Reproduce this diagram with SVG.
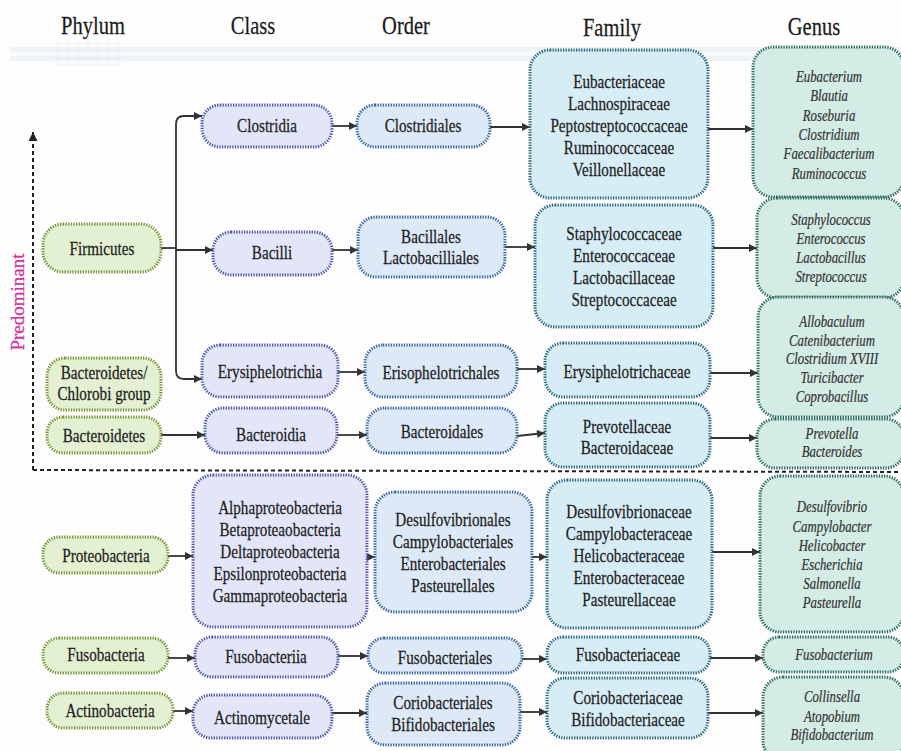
<svg xmlns="http://www.w3.org/2000/svg" width="901" height="751" viewBox="0 0 901 751">
<defs>
<style>
.ph{fill:#e4f0d2;stroke:#759438}
.cl{fill:#e3e6f8;stroke:#4e56a6}
.or{fill:#dde9f7;stroke:#35659e}
.fa{fill:#d7edf5;stroke:#28667e}
.ge{fill:#d3ece6;stroke:#27695c}
rect.n{stroke-width:3;stroke-dasharray:1.3 1.3}
.t{font-family:"Liberation Serif","Times New Roman",serif;font-size:18.5px;fill:#1e1e1e;text-anchor:middle;stroke:#1e1e1e;stroke-width:0.25}
.g{font-style:italic;font-size:16px;fill:#333;stroke:#333;stroke-width:0.2}
.h{font-size:25px;fill:#1a1a1a}
.c{fill:none;stroke:#333;stroke-width:1.8}
.ca{fill:none;stroke:#333;stroke-width:1.8;marker-end:url(#ah)}
.d{fill:none;stroke:#222;stroke-width:2;stroke-dasharray:4 3}
</style>
<marker id="ah" viewBox="0 0 10 10" refX="10" refY="5" markerWidth="9" markerHeight="8" markerUnits="userSpaceOnUse" orient="auto"><path d="M0,0 L10,5 L0,10 z" fill="#333"/></marker>
<marker id="ahd" viewBox="0 0 10 10" refX="10" refY="5" markerWidth="9" markerHeight="9" markerUnits="userSpaceOnUse" orient="auto"><path d="M0,0 L10,5 L0,10 z" fill="#222"/></marker>
</defs>
<rect width="901" height="751" fill="#fdfdfd"/>
<!-- header band -->
<rect x="10" y="47" width="891" height="14" fill="#f0f3f5"/>
<rect x="10" y="52" width="891" height="4" fill="#f9fafb"/>
<g stroke="#e2ebf2" stroke-width="0.8" fill="none" opacity="0.7">
<path d="M55,44 H122 M55,51 H122 M55,58 H122 M55,65 H122"/>
<path d="M58,40 V66 M68,40 V66 M78,40 V66 M88,40 V66 M98,40 V66 M108,40 V66 M118,40 V66"/>
</g>
<!-- headers -->
<g id="headers">
<text class="t h" transform="matrix(0.82 0 0 1 93 0)"><tspan x="0" y="34">Phylum</tspan></text>
<text class="t h" transform="matrix(0.82 0 0 1 253 0)"><tspan x="0" y="34">Class</tspan></text>
<text class="t h" transform="matrix(0.82 0 0 1 406 0)"><tspan x="0" y="34">Order</tspan></text>
<text class="t h" transform="matrix(0.82 0 0 1 612 0)"><tspan x="0" y="36">Family</tspan></text>
<text class="t h" transform="matrix(0.82 0 0 1 814 0)"><tspan x="0" y="35">Genus</tspan></text>
</g>
<!-- predominant indicator -->
<g id="predominant">
<path class="d" d="M33,470 V132" marker-end="url(#ahd)"/>
<path class="d" d="M33,470 L901,472"/>
<text transform="translate(24 302) rotate(-90)" text-anchor="middle" font-family="Liberation Serif, serif" font-size="19" fill="#d0379b" stroke="#d0379b" stroke-width="0.3">Predominant</text>
</g>
<!-- connectors -->
<g id="connectors">
<path class="c" d="M161,248 H176"/>
<path class="ca" d="M176,248 V124 Q176,116 184,116 H202"/>
<path class="ca" d="M176,250 H213"/>
<path class="ca" d="M176,248 V371 Q176,379 184,379 H202"/>
<path class="ca" d="M332,126 H357"/>
<path class="ca" d="M490,127 H530"/>
<path class="ca" d="M708,129 H753"/>
<path class="ca" d="M332,250 H358"/>
<path class="ca" d="M505,247 H535"/>
<path class="ca" d="M713,248 H757"/>
<path class="ca" d="M338,372 H365"/>
<path class="ca" d="M517,369 H545"/>
<path class="ca" d="M710,373 H758"/>
<path class="ca" d="M161,435 H205"/>
<path class="ca" d="M337,435 H367"/>
<path class="ca" d="M517,436 L545,433"/>
<path class="ca" d="M710,438 H757"/>
<path class="ca" d="M168,556 H193"/>
<path class="ca" d="M367,557 H375"/>
<path class="ca" d="M532,557 H547"/>
<path class="ca" d="M712,552 H760"/>
<path class="ca" d="M168,658 H195"/>
<path class="ca" d="M338,656 H368"/>
<path class="ca" d="M522,659 H547"/>
<path class="ca" d="M710,658 H763"/>
<path class="ca" d="M173,711 H193"/>
<path class="ca" d="M332,713 H367"/>
<path class="ca" d="M520,712 H547"/>
<path class="ca" d="M708,713 H763"/>
</g>
<!-- Phylum -->
<g id="firmicutes"><rect class="n ph" x="43" y="224" width="118" height="48" rx="20"/>
<text class="t" transform="matrix(0.82 0 0 1 102 0)"><tspan x="0" y="255">Firmicutes</tspan></text></g>
<g id="bacteroidetes-chlorobi"><rect class="n ph" x="47" y="358" width="114" height="52" rx="18"/>
<text class="t" transform="matrix(0.82 0 0 1 104 0)"><tspan x="0" y="379">Bacteroidetes/</tspan><tspan x="0" y="400">Chlorobi group</tspan></text></g>
<g id="bacteroidetes"><rect class="n ph" x="47" y="417" width="114" height="36" rx="16"/>
<text class="t" transform="matrix(0.82 0 0 1 104 0)"><tspan x="0" y="442">Bacteroidetes</tspan></text></g>
<g id="proteobacteria"><rect class="n ph" x="43" y="537" width="125" height="36" rx="16"/>
<text class="t" transform="matrix(0.82 0 0 1 106 0)"><tspan x="0" y="562">Proteobacteria</tspan></text></g>
<g id="fusobacteria"><rect class="n ph" x="43" y="638" width="125" height="35" rx="16"/>
<text class="t" transform="matrix(0.82 0 0 1 106 0)"><tspan x="0" y="661">Fusobacteria</tspan></text></g>
<g id="actinobacteria"><rect class="n ph" x="47" y="693" width="126" height="35" rx="16"/>
<text class="t" transform="matrix(0.82 0 0 1 110 0)"><tspan x="0" y="717">Actinobacteria</tspan></text></g>
<!-- Class -->
<g id="clostridia"><rect class="n cl" x="202" y="105" width="130" height="42" rx="18"/>
<text class="t" transform="matrix(0.82 0 0 1 267 0)"><tspan x="0" y="132">Clostridia</tspan></text></g>
<g id="bacilli"><rect class="n cl" x="213" y="232" width="119" height="43" rx="18"/>
<text class="t" transform="matrix(0.82 0 0 1 272 0)"><tspan x="0" y="259">Bacilli</tspan></text></g>
<g id="erysiphelotrichia"><rect class="n cl" x="202" y="345" width="136" height="52" rx="18"/>
<text class="t" transform="matrix(0.82 0 0 1 270 0)"><tspan x="0" y="378">Erysiphelotrichia</tspan></text></g>
<g id="bacteroidia"><rect class="n cl" x="205" y="408" width="132" height="45" rx="18"/>
<text class="t" transform="matrix(0.82 0 0 1 271 0)"><tspan x="0" y="441">Bacteroidia</tspan></text></g>
<g id="proteo-classes"><rect class="n cl" x="193" y="475" width="174" height="152" rx="20"/>
<text class="t" transform="matrix(0.82 0 0 1 280 0)"><tspan x="0" y="514">Alphaproteobacteria</tspan><tspan x="0" y="536">Betaproteaobacteria</tspan><tspan x="0" y="558">Deltaproteobacteria</tspan><tspan x="0" y="580">Epsilonproteobacteria</tspan><tspan x="0" y="602">Gammaproteobacteria</tspan></text></g>
<g id="fusobacteriia"><rect class="n cl" x="195" y="637" width="143" height="40" rx="17"/>
<text class="t" transform="matrix(0.82 0 0 1 266 0)"><tspan x="0" y="663">Fusobacteriia</tspan></text></g>
<g id="actinomycetale"><rect class="n cl" x="193" y="695" width="139" height="43" rx="18"/>
<text class="t" transform="matrix(0.82 0 0 1 262 0)"><tspan x="0" y="724">Actinomycetale</tspan></text></g>
<!-- Order -->
<g id="clostridiales"><rect class="n or" x="357" y="105" width="133" height="42" rx="18"/>
<text class="t" transform="matrix(0.82 0 0 1 423 0)"><tspan x="0" y="132">Clostridiales</tspan></text></g>
<g id="bacillales"><rect class="n or" x="358" y="217" width="147" height="60" rx="18"/>
<text class="t" transform="matrix(0.82 0 0 1 431 0)"><tspan x="0" y="243">Bacillales</tspan><tspan x="0" y="264">Lactobacilliales</tspan></text></g>
<g id="erisophelotrichales"><rect class="n or" x="365" y="345" width="152" height="52" rx="18"/>
<text class="t" transform="matrix(0.82 0 0 1 441 0)"><tspan x="0" y="379">Erisophelotrichales</tspan></text></g>
<g id="bacteroidales"><rect class="n or" x="367" y="408" width="150" height="45" rx="18"/>
<text class="t" transform="matrix(0.82 0 0 1 442 0)"><tspan x="0" y="438">Bacteroidales</tspan></text></g>
<g id="proteo-orders"><rect class="n or" x="375" y="492" width="157" height="120" rx="20"/>
<text class="t" transform="matrix(0.82 0 0 1 453 0)"><tspan x="0" y="526">Desulfovibrionales</tspan><tspan x="0" y="548">Campylobacteriales</tspan><tspan x="0" y="570">Enterobacteriales</tspan><tspan x="0" y="592">Pasteurellales</tspan></text></g>
<g id="fusobacteriales"><rect class="n or" x="368" y="638" width="154" height="35" rx="16"/>
<text class="t" transform="matrix(0.82 0 0 1 445 0)"><tspan x="0" y="664">Fusobacteriales</tspan></text></g>
<g id="coriobacteriales"><rect class="n or" x="367" y="683" width="153" height="62" rx="18"/>
<text class="t" transform="matrix(0.82 0 0 1 443 0)"><tspan x="0" y="709">Coriobacteriales</tspan><tspan x="0" y="731">Bifidobacteriales</tspan></text></g>
<!-- Family -->
<g id="clostridia-families"><rect class="n fa" x="530" y="50" width="178" height="148" rx="20"/>
<text class="t" transform="matrix(0.82 0 0 1 619 0)"><tspan x="0" y="88">Eubacteriaceae</tspan><tspan x="0" y="110">Lachnospiraceae</tspan><tspan x="0" y="132">Peptostreptococcaceae</tspan><tspan x="0" y="154">Ruminococcaceae</tspan><tspan x="0" y="176">Veillonellaceae</tspan></text></g>
<g id="bacilli-families"><rect class="n fa" x="535" y="205" width="178" height="122" rx="20"/>
<text class="t" transform="matrix(0.82 0 0 1 624 0)"><tspan x="0" y="240">Staphylococcaceae</tspan><tspan x="0" y="262">Enterococcaceae</tspan><tspan x="0" y="284">Lactobacillaceae</tspan><tspan x="0" y="306">Streptococcaceae</tspan></text></g>
<g id="erysiphelotrichaceae"><rect class="n fa" x="545" y="343" width="165" height="54" rx="18"/>
<text class="t" transform="matrix(0.82 0 0 1 627 0)"><tspan x="0" y="378">Erysiphelotrichaceae</tspan></text></g>
<g id="bacteroidales-families"><rect class="n fa" x="545" y="403" width="165" height="64" rx="18"/>
<text class="t" transform="matrix(0.82 0 0 1 627 0)"><tspan x="0" y="433">Prevotellaceae</tspan><tspan x="0" y="454">Bacteroidaceae</tspan></text></g>
<g id="proteo-families"><rect class="n fa" x="547" y="480" width="165" height="148" rx="20"/>
<text class="t" transform="matrix(0.82 0 0 1 629 0)"><tspan x="0" y="518">Desulfovibrionaceae</tspan><tspan x="0" y="540">Campylobacteraceae</tspan><tspan x="0" y="562">Helicobacteraceae</tspan><tspan x="0" y="584">Enterobacteraceae</tspan><tspan x="0" y="606">Pasteurellaceae</tspan></text></g>
<g id="fusobacteriaceae"><rect class="n fa" x="547" y="637" width="163" height="36" rx="16"/>
<text class="t" transform="matrix(0.82 0 0 1 628 0)"><tspan x="0" y="661">Fusobacteriaceae</tspan></text></g>
<g id="coriobacteriaceae"><rect class="n fa" x="547" y="678" width="161" height="60" rx="18"/>
<text class="t" transform="matrix(0.82 0 0 1 628 0)"><tspan x="0" y="704">Coriobacteriaceae</tspan><tspan x="0" y="726">Bifidobacteriaceae</tspan></text></g>
<!-- Genus -->
<g id="clostridia-genera"><rect class="n ge" x="753" y="47" width="151" height="150" rx="20"/>
<text class="t g" transform="matrix(0.8 0 0 1 829 0)"><tspan x="0" y="82">Eubacterium</tspan><tspan x="0" y="101">Blautia</tspan><tspan x="0" y="121">Roseburia</tspan><tspan x="0" y="140">Clostridium</tspan><tspan x="0" y="159">Faecalibacterium</tspan><tspan x="0" y="179">Ruminococcus</tspan></text></g>
<g id="bacilli-genera"><rect class="n ge" x="757" y="198" width="147" height="100" rx="20"/>
<text class="t g" transform="matrix(0.8 0 0 1 831 0)"><tspan x="0" y="225">Staphylococcus</tspan><tspan x="0" y="244">Enterococcus</tspan><tspan x="0" y="263">Lactobacillus</tspan><tspan x="0" y="282">Streptococcus</tspan></text></g>
<g id="erysiphelotrichaceae-genera"><rect class="n ge" x="758" y="297" width="146" height="120" rx="20"/>
<text class="t g" transform="matrix(0.8 0 0 1 832 0)"><tspan x="0" y="327">Allobaculum</tspan><tspan x="0" y="346">Catenibacterium</tspan><tspan x="0" y="364">Clostridium XVIII</tspan><tspan x="0" y="383">Turicibacter</tspan><tspan x="0" y="402">Coprobacillus</tspan></text></g>
<g id="bacteroidales-genera"><rect class="n ge" x="757" y="419" width="147" height="49" rx="18"/>
<text class="t g" transform="matrix(0.8 0 0 1 832 0)"><tspan x="0" y="439">Prevotella</tspan><tspan x="0" y="457">Bacteroides</tspan></text></g>
<g id="proteo-genera"><rect class="n ge" x="760" y="476" width="144" height="156" rx="20"/>
<text class="t g" transform="matrix(0.8 0 0 1 832 0)"><tspan x="0" y="512">Desulfovibrio</tspan><tspan x="0" y="532">Campylobacter</tspan><tspan x="0" y="551">Helicobacter</tspan><tspan x="0" y="570">Escherichia</tspan><tspan x="0" y="589">Salmonella</tspan><tspan x="0" y="608">Pasteurella</tspan></text></g>
<g id="fusobacterium"><rect class="n ge" x="763" y="637" width="141" height="35" rx="16"/>
<text class="t g" transform="matrix(0.8 0 0 1 834 0)"><tspan x="0" y="660">Fusobacterium</tspan></text></g>
<g id="coriobacteriaceae-genera"><rect class="n ge" x="763" y="677" width="141" height="84" rx="20"/>
<text class="t g" transform="matrix(0.8 0 0 1 832 0)"><tspan x="0" y="702">Collinsella</tspan><tspan x="0" y="722">Atopobium</tspan><tspan x="0" y="740">Bifidobacterium</tspan></text></g>
</svg>
